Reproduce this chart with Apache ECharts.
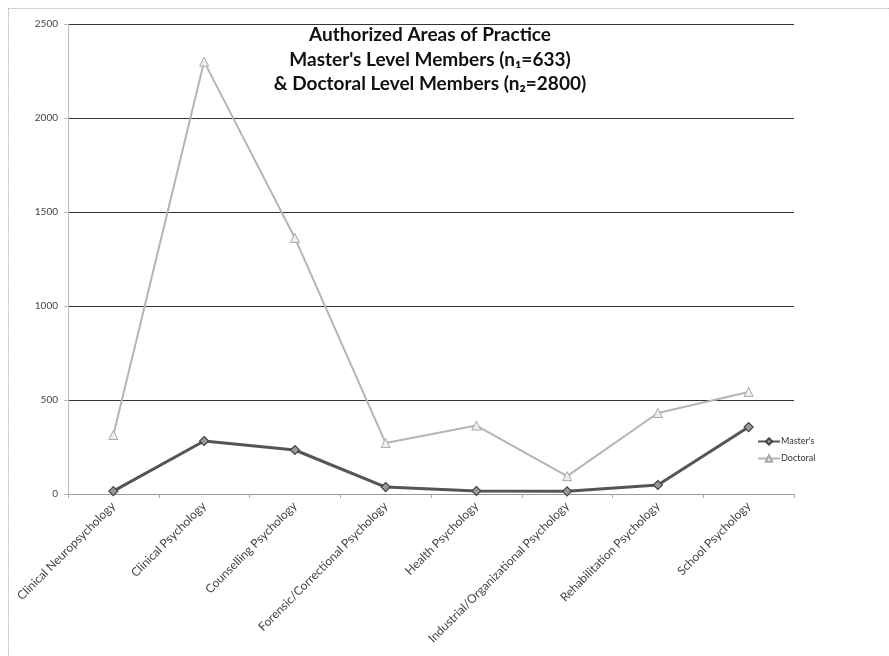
<!DOCTYPE html>
<html>
<head>
<meta charset="utf-8">
<script src="https://cdn.jsdelivr.net/npm/echarts@6/dist/echarts.min.js"></script>
<style>
  html, body { margin: 0; padding: 0; background: #fff; }
  #chart { width: 889px; height: 656px; }
</style>
</head>
<body>
<div id="chart"></div>
<script>
// Areas of practice along the x axis
const categories = [
  'Clinical Neuropsychology',
  'Clinical Psychology',
  'Counselling Psychology',
  'Forensic/Correctional Psychology',
  'Health Psychology',
  'Industrial/Organizational Psychology',
  'Rehabilitation Psychology',
  'School Psychology'
];

// Member counts per area
const mastersValues  = [15, 282, 234, 37, 16, 14, 48, 356];
const doctoralValues = [314, 2300, 1362, 271, 364, 95, 431, 543];

const titleLines = [
  'Authorized Areas of Practice',
  "Master's Level Members (n\u2081=633)",
  '& Doctoral Level Members (n\u2082=2800)'
];

const chart = echarts.init(document.getElementById('chart'));

const font = "Lato, 'Open Sans', sans-serif";

chart.setOption({
  backgroundColor: '#ffffff',
  animation: false,
  title: {
    text: titleLines.join('\n'),
    left: 425,
    top: 18,
    textAlign: 'center',
    textStyle: {
      fontFamily: "Lato, 'Open Sans', sans-serif",
      fontWeight: 'bold',
      fontSize: 19,
      lineHeight: 24.5,
      color: '#111'
    }
  },
  legend: {
    orient: 'vertical',
    left: 752,
    top: 432,
    itemGap: 8,
    itemWidth: 22,
    itemHeight: 8,
    textStyle: { fontFamily: font, fontSize: 9, color: '#333', padding: [0, 0, 0, -4] },
    data: ["Master's", 'Doctoral']
  },
  grid: { left: 68, right: 95, top: 24, bottom: 162, containLabel: false },
  xAxis: {
    type: 'category',
    data: categories,
    boundaryGap: true,
    axisLine: { lineStyle: { color: '#999', width: 1 } },
    axisTick: { show: true, alignWithLabel: false, length: 4, lineStyle: { color: '#aaa' } },
    axisLabel: {
      interval: 0,
      rotate: 45,
      margin: 10,
      fontFamily: font,
      fontSize: 12,
      color: '#444'
    }
  },
  yAxis: {
    type: 'value',
    min: 0,
    max: 2500,
    interval: 500,
    axisLine: { show: true, lineStyle: { color: '#bbb' } },
    axisTick: { show: true, length: 4, lineStyle: { color: '#bbb' } },
    axisLabel: {
      fontFamily: font,
      fontSize: 10,
      color: '#444',
      margin: 10,
      formatter: (v) => String(v)
    },
    splitLine: { show: true, lineStyle: { color: '#333', width: 1 } }
  },
  series: [
    {
      name: "Master's",
      type: 'line',
      data: mastersValues,
      symbol: 'diamond',
      symbolSize: 9,
      lineStyle: { color: '#555', width: 3 },
      itemStyle: { color: '#999', borderColor: '#444', borderWidth: 1.2 },
      z: 3
    },
    {
      name: 'Doctoral',
      type: 'line',
      data: doctoralValues,
      symbol: 'triangle',
      symbolSize: 9,
      lineStyle: { color: '#b5b5b5', width: 2 },
      itemStyle: { color: '#eee', borderColor: '#aaa', borderWidth: 1 },
      z: 2
    }
  ],
  graphic: [
    {
      type: 'rect',
      shape: { x: 8.5, y: 8.5, width: 900, height: 700 },
      style: { fill: 'none', stroke: '#bbb', lineWidth: 1, lineDash: [2, 1] },
      silent: true
    }
  ]
});
</script>
</body>
</html>
